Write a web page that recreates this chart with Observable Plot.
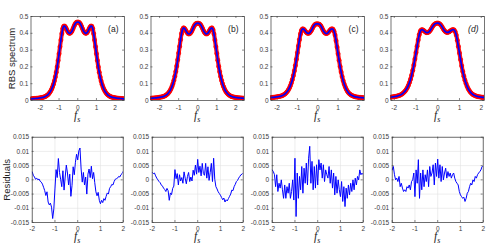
<!DOCTYPE html>
<html><head><meta charset="utf-8">
<script src="https://cdn.jsdelivr.net/npm/d3@7"></script>
<script src="https://cdn.jsdelivr.net/npm/@observablehq/plot@0.6"></script>
<style>
body{margin:0;background:#fff;}
#chart{position:relative;width:486px;height:247px;overflow:hidden;background:#fff;}
</style></head><body><div id="chart"></div>
<script>
// ---------- data ----------
const panelLabels = ["(a)", "(b)", "(c)", "(d)"];
const topXDomains = [[-2.5, 2.5], [-2.45, 2.45], [-2.3, 2.3], [-2.15, 2.15]];
const xTicks = [-2, -1, 0, 1, 2];
const specTicks = [0, 0.1, 0.2, 0.3, 0.4, 0.5];
const resTicks = [-0.015, -0.01, -0.005, 0, 0.005, 0.01, 0.015];

const specX = [-2.5,-2.45,-2.4,-2.35,-2.3,-2.25,-2.2,-2.15,-2.1,-2.05,-2,-1.95,-1.9,-1.85,-1.8,-1.75,-1.7,-1.65,-1.6,-1.55,-1.5,-1.45,-1.4,-1.35,-1.3,-1.25,-1.2,-1.15,-1.1,-1.05,-1,-0.95,-0.9,-0.85,-0.8,-0.75,-0.7,-0.65,-0.6,-0.55,-0.5,-0.45,-0.4,-0.35,-0.3,-0.25,-0.2,-0.15,-0.1,-0.05,0,0.05,0.1,0.15,0.2,0.25,0.3,0.35,0.4,0.45,0.5,0.55,0.6,0.65,0.7,0.75,0.8,0.85,0.9,0.95,1,1.05,1.1,1.15,1.2,1.25,1.3,1.35,1.4,1.45,1.5,1.55,1.6,1.65,1.7,1.75,1.8,1.85,1.9,1.95,2,2.05,2.1,2.15,2.2,2.25,2.3,2.35,2.4,2.45,2.5];

const specA = [0.010,0.010,0.011,0.011,0.012,0.012,0.013,0.013,0.014,0.015,0.016,0.017,0.018,0.019,0.021,0.023,0.026,0.030,0.034,0.040,0.047,0.056,0.067,0.080,0.096,0.116,0.140,0.168,0.200,0.238,0.278,0.320,0.360,0.398,0.428,0.442,0.443,0.436,0.425,0.413,0.404,0.400,0.401,0.406,0.415,0.428,0.442,0.454,0.462,0.466,
  0.467,
  0.466,0.462,0.454,0.442,0.428,0.415,0.406,0.401,0.400,0.404,0.413,0.425,0.436,0.443,0.442,0.428,0.398,0.360,0.320,0.278,0.238,0.200,0.168,0.140,0.116,0.096,0.080,0.067,0.056,0.047,0.040,0.034,0.030,0.026,0.023,0.021,0.019,0.018,0.017,0.016,0.015,0.014,0.013,0.013,0.012,0.012,0.011,0.011,0.010,0.010];
const specB = [0.013,0.013,0.014,0.014,0.015,0.015,0.016,0.016,0.017,0.018,0.019,0.020,0.021,0.022,0.024,0.026,0.029,0.033,0.037,0.043,0.050,0.059,0.070,0.084,0.100,0.120,0.144,0.172,0.205,0.242,0.282,0.322,0.362,0.398,0.422,0.432,0.430,0.422,0.412,0.403,0.397,0.396,0.399,0.406,0.416,0.429,0.441,0.451,0.457,0.459,
  0.460,
  0.459,0.457,0.451,0.441,0.429,0.416,0.406,0.399,0.396,0.398,0.404,0.413,0.423,0.430,0.432,0.421,0.396,0.360,0.320,0.280,0.240,0.203,0.171,0.143,0.119,0.099,0.083,0.069,0.058,0.049,0.042,0.036,0.032,0.028,0.025,0.023,0.021,0.020,0.019,0.018,0.017,0.016,0.016,0.015,0.015,0.014,0.014,0.013,0.013,0.013];
const specC = [0.016,0.016,0.017,0.017,0.018,0.018,0.019,0.019,0.020,0.021,0.022,0.023,0.024,0.025,0.027,0.029,0.032,0.036,0.040,0.046,0.053,0.062,0.073,0.087,0.104,0.124,0.148,0.176,0.208,0.245,0.284,0.324,0.362,0.396,0.418,0.426,0.425,0.419,0.411,0.404,0.400,0.400,0.403,0.410,0.420,0.432,0.443,0.451,0.455,0.456,
  0.456,
  0.455,0.452,0.445,0.434,0.421,0.410,0.402,0.399,0.399,0.403,0.410,0.418,0.424,0.427,0.424,0.412,0.390,0.356,0.318,0.278,0.239,0.202,0.170,0.142,0.118,0.098,0.082,0.068,0.057,0.048,0.041,0.036,0.032,0.029,0.026,0.024,0.022,0.021,0.020,0.019,0.018,0.018,0.017,0.017,0.016,0.016,0.016,0.015,0.015,0.015];
const specD = [0.016,0.016,0.017,0.017,0.018,0.018,0.019,0.020,0.021,0.022,0.023,0.024,0.025,0.027,0.029,0.031,0.034,0.038,0.043,0.049,0.056,0.065,0.076,0.090,0.107,0.127,0.151,0.179,0.211,0.247,0.285,0.323,0.360,0.392,0.413,0.421,0.421,0.417,0.411,0.406,0.404,0.405,0.409,0.416,0.426,0.437,0.447,0.454,0.458,0.460,
  0.461,
  0.459,0.455,0.448,0.438,0.427,0.417,0.410,0.406,0.405,0.407,0.411,0.416,0.420,0.422,0.420,0.410,0.390,0.358,0.321,0.282,0.243,0.206,0.173,0.145,0.121,0.101,0.084,0.070,0.059,0.050,0.043,0.037,0.033,0.030,0.027,0.025,0.023,0.022,0.021,0.020,0.019,0.019,0.018,0.018,0.017,0.017,0.017,0.016,0.016,0.016];

const resX = [-2,-1.95,-1.9,-1.85,-1.8,-1.75,-1.7,-1.65,-1.6,-1.55,-1.5,-1.45,-1.4,-1.35,-1.3,-1.25,-1.2,-1.15,-1.1,-1.05,-1,-0.95,-0.9,-0.85,-0.8,-0.75,-0.7,-0.65,-0.6,-0.55,-0.5,-0.45,-0.4,-0.35,-0.3,-0.25,-0.2,-0.15,-0.1,-0.05,0,0.05,0.1,0.15,0.2,0.25,0.3,0.35,0.4,0.45,0.5,0.55,0.6,0.65,0.7,0.75,0.8,0.85,0.9,0.95,1,1.05,1.1,1.15,1.2,1.25,1.3,1.35,1.4,1.45,1.5,1.55,1.6,1.65,1.7,1.75,1.8,1.85,1.9,1.95,2];
// residuals in units of 1e-3
const resA_milli = [2.8,1.6,1.0,0.2,0.6,0.0,0.3,-0.5,-0.8,-1.5,-2.6,-3.8,-5.5,-4.2,-7.8,-8.8,-8.2,-9.6,-13.6,-10.2,-3.2,3.6,0.8,7.5,2.6,0.2,-2.4,3.2,-3.6,1.0,5.2,2.4,-1.8,2.0,-5.8,-2.0,4.6,1.8,6.2,9.0,7.0,10.2,11.2,3.8,-0.8,2.6,-1.8,1.0,-5.0,2.0,3.8,0.8,4.8,0.4,2.6,-1.0,-4.2,-5.6,-4.4,-7.2,-8.4,-7.2,-8.0,-6.6,-7.2,-5.8,-4.6,-5.0,-3.0,-2.4,-1.6,-1.8,-0.6,0.2,0.4,0.6,1.2,1.0,1.8,2.2,3.0];
const resB_milli = [2.6,2.2,2.4,1.4,0.6,0.0,-0.6,-1.0,-1.8,-2.2,-2.9,-3.4,-4.1,-3.0,-3.8,-7.2,-4.6,-5.2,-3.0,-2.2,3.6,0.4,2.2,-1.8,1.8,-0.4,0.8,-1.2,2.8,0.6,-1.4,1.2,2.6,-0.6,1.0,-0.4,3.4,1.6,5.2,2.0,7.2,2.6,4.8,1.4,5.8,2.2,1.6,5.8,0.6,4.6,-0.2,2.6,5.8,-0.6,7.6,0.2,-2.4,-3.2,-4.2,-4.8,-5.4,-6.2,-7.0,-6.4,-7.8,-7.0,-7.4,-6.6,-5.8,-5.0,-3.6,-3.8,-2.4,-1.6,-0.6,-0.2,0.6,1.2,1.8,2.0,2.4];
const resC_milli = [3.5,2.9,1.8,-2.4,1.8,-4.1,-1.2,-2.9,0,-3.5,-6.5,-1.8,-6.5,-2.4,-4.7,-1.2,-6.5,-4.1,0,-7.1,7.6,-12.9,2.4,-6.5,1.2,-3.5,4.7,-4.7,4.1,-1.2,5.9,-1.8,7.6,11.8,-1.2,6.5,-3.5,4.7,-2.9,5.3,-1.8,7.1,3.5,5.9,0.6,5.3,-0.6,3.5,1.8,0.6,4.7,-1.2,3.5,-2.9,2.4,-5.3,1.2,-4.7,0,-3.5,-5.9,-0.6,-7.6,-2.4,-9.4,-2.9,-6.5,-1.8,-5.3,-1.2,-4.1,0,-3.5,0.6,-1.8,1.2,0,3.5,1.8,2.4,1.8];
const resD_milli = [3.5,4.7,1.8,0,0.6,-0.6,1.2,-2.4,-1.2,-2.9,-4.1,-3.5,-4.1,-2.4,-2.9,-1.8,-3.5,-0.6,0,2.4,-5.9,3.5,-1.2,7.1,-6.5,2.4,-3.5,3.5,-2.4,1.8,-0.6,3.5,-2.4,4.7,1.2,2.4,5.3,-1.8,5.9,1.2,7.3,0.6,5.3,-0.6,4.7,0,2.4,4.1,0.6,2.9,1.2,2.4,0.6,1.8,2.4,0.6,-0.6,-1.2,-1.8,-4.1,-5.3,-5.9,-6.5,-6.1,-7.6,-6.5,-4.7,-4.1,-2.4,-1.2,-1.8,0,-0.6,1.2,0.6,1.8,2.4,2.9,3.5,4.7,4.7];

const specs = [specA, specB, specC, specD];
const residuals = [resA_milli, resB_milli, resC_milli, resD_milli];

// ---------- drawing ----------
const chart = document.getElementById("chart");
const axisColor = "#3a3a3a";
const baseStyle = {fontFamily: "'Liberation Sans', Arial, sans-serif", fontSize: "6.5px", color: axisColor, background: "transparent", overflow: "visible"};

function addFs(svg, cx, baseline) {
  const t = d3.select(svg).append("text")
    .attr("x", cx).attr("y", baseline)
    .attr("text-anchor", "middle")
    .attr("font-family", "'Liberation Serif', 'DejaVu Serif', serif")
    .attr("font-style", "italic")
    .attr("font-size", 11.5)
    .attr("fill", "#222");
  t.append("tspan").text("f");
  t.append("tspan").attr("dy", 2.5).attr("font-size", 8).text("s");
}

function place(svg, left, top) {
  svg.style.position = "absolute";
  svg.style.left = left + "px";
  svg.style.top = top + "px";
  chart.appendChild(svg);
}

for (let i = 0; i < 4; i++) {
  // top row
  const W1 = 125, H1 = 124, mL1 = 30.5, mR1 = 1, mT1 = 16, mB1 = 24;
  const fw1 = W1 - mL1 - mR1, fh1 = H1 - mT1 - mB1;
  const sdata = specX.map((x, j) => ({x, y: specs[i][j]}));
  const marksTop = [
    Plot.axisX(xTicks, {tickSize: 0, tickPadding: 5, tickFormat: d => String(d), label: null}),
    Plot.axisY(specTicks, {tickSize: 0, tickPadding: 2.5, tickFormat: d => String(d), label: null}),
    Plot.ruleX(xTicks, {insetTop: fh1 - 2, stroke: axisColor, strokeWidth: 0.6}),
    Plot.ruleX(xTicks, {insetBottom: fh1 - 2, stroke: axisColor, strokeWidth: 0.6}),
    Plot.ruleY(specTicks, {insetRight: fw1 - 2, stroke: axisColor, strokeWidth: 0.6}),
    Plot.ruleY(specTicks, {insetLeft: fw1 - 2, stroke: axisColor, strokeWidth: 0.6}),
    // measured data (red markers)
    Plot.line(sdata, {x: "x", y: "y", stroke: "#ff1a1a", strokeWidth: 4.2, curve: "catmull-rom", clip: true}),
    Plot.dot(sdata, {x: "x", y: "y", r: 2.1, fill: "#ff0000", stroke: "#ff0000", strokeWidth: 0.6, clip: true}),
    // fit (blue line)
    Plot.line(sdata, {x: "x", y: "y", stroke: "#0000ff", strokeWidth: 1.7, curve: "catmull-rom", clip: true}),
    Plot.frame({stroke: axisColor, strokeWidth: 0.7}),
    Plot.text([panelLabels[i]], {frameAnchor: "top-right", dx: -6, dy: 9, textAnchor: "end", fontSize: 8.5, fill: "#222", fontStyle: i === 3 ? "italic" : "normal"})
  ];
  if (i === 0) marksTop.push(Plot.text(["RBS spectrum"], {frameAnchor: "left", dx: -19, rotate: -90, textAnchor: "middle", fontSize: 9.5, fill: "#222"}));
  const top = Plot.plot({
    width: W1, height: H1, marginLeft: mL1, marginRight: mR1, marginTop: mT1, marginBottom: mB1,
    x: {domain: topXDomains[i]}, y: {domain: [0, 0.5]},
    style: baseStyle,
    marks: marksTop
  });
  addFs(top, mL1 + fw1 / 2, 119);
  place(top, 120 * i, 0);

  // bottom row
  const W2 = 124, H2 = 123, mL2 = 31.7, mR2 = 1.3, mT2 = 12.7, mB2 = 25;
  const fw2 = W2 - mL2 - mR2, fh2 = H2 - mT2 - mB2;
  const rdata = resX.map((x, j) => ({x, y: residuals[i][j] / 1000}));
  const marksBot = [
    Plot.gridX(xTicks, {stroke: "#e3e3e3", strokeOpacity: 1, strokeWidth: 0.6}),
    Plot.gridY(resTicks, {stroke: "#e3e3e3", strokeOpacity: 1, strokeWidth: 0.6}),
    Plot.axisX(xTicks, {tickSize: 0, tickPadding: 4, tickFormat: d => String(d), label: null}),
    Plot.axisY(resTicks, {tickSize: 0, tickPadding: 3, tickFormat: d => String(d), label: null}),
    Plot.ruleX(xTicks, {insetTop: fh2 - 2, stroke: axisColor, strokeWidth: 0.6}),
    Plot.ruleX(xTicks, {insetBottom: fh2 - 2, stroke: axisColor, strokeWidth: 0.6}),
    Plot.ruleY(resTicks, {insetRight: fw2 - 2, stroke: axisColor, strokeWidth: 0.6}),
    Plot.ruleY(resTicks, {insetLeft: fw2 - 2, stroke: axisColor, strokeWidth: 0.6}),
    Plot.line(rdata, {x: "x", y: "y", stroke: "#0000ff", strokeWidth: 1, clip: true}),
    Plot.frame({stroke: axisColor, strokeWidth: 0.7})
  ];
  if (i === 0) marksBot.push(Plot.text(["Residuals"], {frameAnchor: "left", dx: -25.5, rotate: -90, textAnchor: "middle", fontSize: 9.5, fill: "#222"}));
  const bot = Plot.plot({
    width: W2, height: H2, marginLeft: mL2, marginRight: mR2, marginTop: mT2, marginBottom: mB2,
    x: {domain: [-2, 2]}, y: {domain: [-0.015, 0.015]},
    style: baseStyle,
    marks: marksBot
  });
  addFs(bot, mL2 + fw2 / 2, 116);
  place(bot, 120 * i, 124);
}
</script></body></html>
